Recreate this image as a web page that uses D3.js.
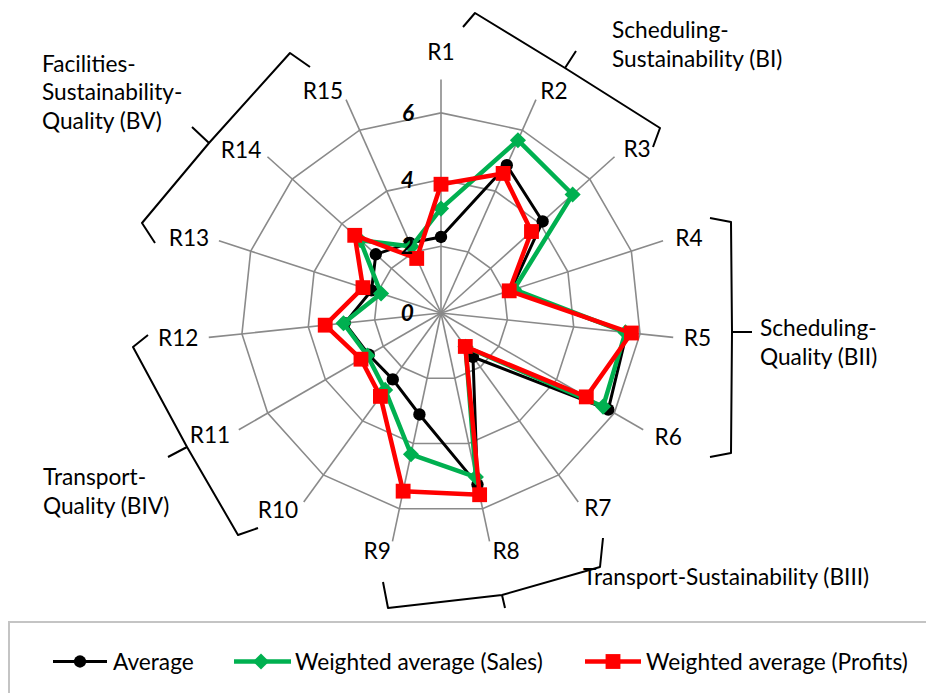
<!DOCTYPE html>
<html><head><meta charset="utf-8">
<script src="https://cdn.jsdelivr.net/npm/d3@7/dist/d3.min.js"></script>
<style>html,body{margin:0;padding:0;background:#fff;}svg{display:block;}</style>
</head><body>
<svg id="chart" width="926" height="693"></svg>
<script>
// ---------- data ----------
const categories = ["R1","R2","R3","R4","R5","R6","R7","R8","R9","R10","R11","R12","R13","R14","R15"];
const averageValues = [2.28, 4.85, 4.10, 2.20, 5.60, 5.79, 1.63, 5.26, 3.11, 2.46, 2.50, 2.90, 2.19, 2.63, 2.30];
const salesValues   = [3.13, 5.67, 5.31, 2.30, 5.56, 5.61, 1.25, 5.03, 4.33, 2.85, 2.55, 2.94, 1.89, 3.26, 2.18];
const profitValues  = [3.86, 4.58, 3.65, 2.15, 5.74, 5.03, 1.24, 5.57, 5.46, 3.09, 2.77, 3.49, 2.46, 3.48, 1.79];
const tickValues = [0, 2, 4, 6];
const gridValues = [2, 4, 6];
const axisMax = 7;
const seriesNames = ["Average", "Weighted average (Sales)", "Weighted average (Profits)"];
const groupLabels = [
  ["Scheduling-", "Sustainability (BI)"],
  ["Facilities-", "Sustainability-", "Quality (BV)"],
  ["Scheduling-", "Quality (BII)"],
  ["Transport-", "Quality (BIV)"],
  ["Transport-Sustainability (BIII)"]
];

// ---------- layout ----------
const W = 926, H = 693, cx = 441, cy = 313, R = 233.5;
const FONT = "Lato, 'Open Sans', sans-serif";
const svg = d3.select("#chart");

// font scale to mimic Calibri widths
const probe = svg.append("text").attr("font-family", FONT).attr("font-size", 24).text("Weighted average (Profits)");
const pw = probe.node().getComputedTextLength();
probe.remove();
const fs = 24 * 262 / pw;
const capH = 0.72 * fs;

const n = categories.length;
const angle = d3.scaleLinear().domain([0, n]).range([0, 2 * Math.PI]);
const r = d3.scaleLinear().domain([0, axisMax]).range([0, R]);

const g = svg.append("g").attr("transform", `translate(${cx},${cy})`);

// grid rings
const ringLine = d3.lineRadial().angle((d, i) => angle(i)).radius(d => r(d)).curve(d3.curveLinearClosed);
g.selectAll(".ring").data(gridValues).join("path")
  .attr("d", v => ringLine(categories.map(() => v)))
  .attr("fill", "none").attr("stroke", "#8a8a8a").attr("stroke-width", 1.6);

// spokes
g.selectAll(".spoke").data(categories).join("line")
  .attr("x1", 0).attr("y1", 0)
  .attr("x2", (d, i) => d3.pointRadial(angle(i), r(axisMax))[0])
  .attr("y2", (d, i) => d3.pointRadial(angle(i), r(axisMax))[1])
  .attr("stroke", "#8a8a8a").attr("stroke-width", 1.6);

// series
const series = [
  {name: seriesNames[0], values: averageValues, color: "#000000", width: 3, marker: "circle"},
  {name: seriesNames[1], values: salesValues, color: "#00b050", width: 4.5, marker: "diamond"},
  {name: seriesNames[2], values: profitValues, color: "#ff0000", width: 4.5, marker: "square"}
];
const markerPath = {
  circle: d3.symbol(d3.symbolCircle, 120)(),
  diamond: d3.symbol(d3.symbolSquare, 130)(),
  square: d3.symbol(d3.symbolSquare, 220)()
};
const markerRot = {circle: 0, diamond: 45, square: 0};

series.forEach(s => {
  const sg = g.append("g");
  sg.append("path")
    .attr("d", ringLine(s.values))
    .attr("fill", "none").attr("stroke", s.color).attr("stroke-width", s.width)
    .attr("stroke-linejoin", "round");
  sg.selectAll("path.m").data(s.values).join("path").attr("class", "m")
    .attr("d", markerPath[s.marker])
    .attr("transform", (v, i) => {
      const p = d3.pointRadial(angle(i), r(v));
      return `translate(${p[0]},${p[1]}) rotate(${markerRot[s.marker]})`;
    })
    .attr("fill", s.color);
});

// tick labels
g.selectAll(".tick").data(tickValues).join("text")
  .attr("x", -27).attr("y", v => -r(v) + capH / 2)
  .attr("text-anchor", "end")
  .attr("font-family", FONT).attr("font-size", fs).attr("font-weight", "bold").attr("font-style", "italic")
  .attr("fill", "#000").text(v => v);

// category labels (polar placement: radius, angle in degrees)
const labelPolar = [[261.5,0],[249,27],[255.6,50.1],[259,73.2],[257.7,95.6],[258.7,118.6],[250.3,141.2],
  [246.7,164.7],[246.5,195],[255.7,219.6],[261.2,242.2],[264,264.6],[263,286.6],[258,309.2],[251.4,332]];
g.selectAll(".cat").data(categories).join("text")
  .attr("x", (d, i) => d3.pointRadial(labelPolar[i][1] * Math.PI / 180, labelPolar[i][0])[0])
  .attr("y", (d, i) => d3.pointRadial(labelPolar[i][1] * Math.PI / 180, labelPolar[i][0])[1] + capH / 2)
  .attr("text-anchor", "middle")
  .attr("font-family", FONT).attr("font-size", fs).attr("fill", "#000").text(d => d);

// braces
const braces = [
  [[463,27],[475,13],[565,68],[576,51],[565,68],[660,128],[653,147]],
  [[310,67],[290,53],[209,143],[192,127],[209,143],[142,223],[155,243]],
  [[710,218],[731,222],[732,332],[752,332],[732,332],[731,453],[710,457]],
  [[148,335],[133,347],[187,447],[168,457],[187,447],[238,535],[258,528]],
  [[383,582],[388,608],[502,595],[505,608],[502,595],[600,567],[603,538]]
];
svg.selectAll(".brace").data(braces).join("path")
  .attr("d", p => `M${p[0]}L${p[1]}L${p[2]}L${p[3]}M${p[4]}L${p[5]}L${p[6]}`)
  .attr("fill", "none").attr("stroke", "#000").attr("stroke-width", 2).attr("stroke-linejoin", "round");

// group annotations
const groupPos = [[612, 38], [42, 71.7], [760, 336], [43, 485], [583, 585]];
const lh = 28.5;
groupLabels.forEach((lines, k) => {
  const t = svg.append("text").attr("font-family", FONT).attr("font-size", fs).attr("fill", "#000");
  lines.forEach((ln, j) => {
    t.append("tspan").attr("x", groupPos[k][0]).attr("y", groupPos[k][1] + j * lh).text(ln);
  });
});

// legend
svg.append("rect").attr("x", 9).attr("y", 622).attr("width", 930).attr("height", 90)
  .attr("fill", "#fff").attr("stroke", "#c4c4c4").attr("stroke-width", 2);
const legendX = [[53, 107, 80, 113], [234, 291, 261, 295], [585, 641, 613, 646]];
const ly = 661.5;
series.forEach((s, i) => {
  const L = legendX[i];
  svg.append("line").attr("x1", L[0]).attr("x2", L[1]).attr("y1", ly).attr("y2", ly)
    .attr("stroke", s.color).attr("stroke-width", s.width);
  svg.append("path").attr("d", markerPath[s.marker])
    .attr("transform", `translate(${L[2]},${ly}) rotate(${markerRot[s.marker]})`).attr("fill", s.color);
  svg.append("text").attr("x", L[3]).attr("y", ly + capH / 2)
    .attr("font-family", FONT).attr("font-size", fs).attr("fill", "#000").text(s.name);
});
</script>
</body></html>
